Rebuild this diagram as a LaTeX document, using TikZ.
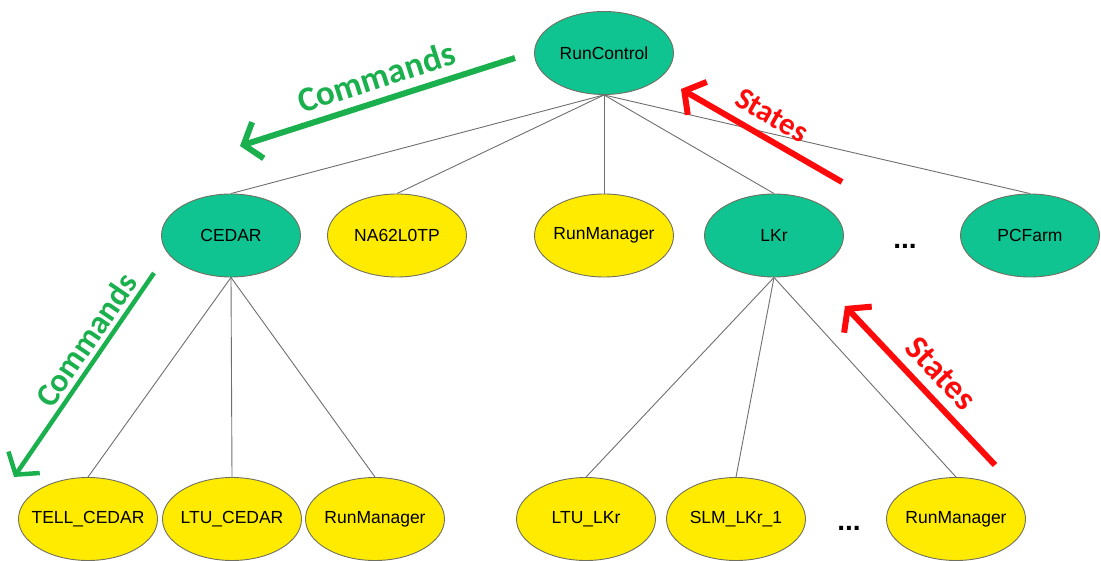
\documentclass[tikz,border=0pt]{standalone}
\usepackage{fontspec}
\setmainfont{Liberation Sans}
\newfontfamily\lblfont{Carlito}
\usetikzlibrary{shapes.geometric,arrows.meta}
\definecolor{nodegreen}{HTML}{10C491}
\definecolor{nodeyellow}{HTML}{FFEB00}
\definecolor{arrgreen}{HTML}{1BB04E}
\definecolor{arrred}{HTML}{FF0A0A}
\definecolor{edgegray}{HTML}{6E6E6E}
\definecolor{bordergray}{HTML}{707060}
\newcommand\zw[1]{\makebox[0pt]{#1}}
\tikzset{
  base/.style={ellipse, draw=bordergray, line width=0.9pt, inner sep=0pt,
    minimum width=139pt, minimum height=83pt,
    font=\fontsize{17.5}{19}\selectfont},
  gnode/.style={base, fill=nodegreen},
  ynode/.style={base, fill=nodeyellow},
  edge/.style={draw=edgegray, line width=0.9pt},
  bigarrow/.style={line width=6pt, -{Straight Barb[length=15pt,width=38pt]}},
  lbl/.style={font=\lblfont\bfseries\fontsize{#1}{#1}\selectfont, inner sep=0pt},
  dots/.style={font=\bfseries\fontsize{28}{28}\selectfont, inner sep=0pt}
}
\begin{document}
\begin{tikzpicture}[x=1pt,y=-1pt]
\useasboundingbox (0,0) rectangle (1101,561);
% nodes
\node[gnode] (rc) at (604,53) {\zw{RunControl}};
\node[gnode] (cedar) at (231,235.5) {\zw{CEDAR}};
\node[ynode] (na62) at (397,235.5) {\zw{NA62L0TP}};
\node[ynode] (rm1) at (604,235.5) {\zw{RunManager}};
\node[gnode] (lkr) at (774,235.5) {\zw{LKr}};
\node[dots] (dots1) at (905,246) {...};
\node[gnode] (pcf) at (1030,235.5) {\zw{PCFarm}};
\node[ynode] (tell) at (88,519) {\zw{TELL\_CEDAR}};
\node[ynode] (ltuc) at (232,519) {\zw{LTU\_CEDAR}};
\node[ynode] (rm2) at (375,519) {\zw{RunManager}};
\node[ynode] (ltul) at (586,519) {\zw{LTU\_LKr}};
\node[ynode] (slm) at (736,519) {\zw{SLM\_LKr\_1}};
\node[dots] (dots2) at (849,528) {...};
\node[ynode] (rm3) at (956,519) {\zw{RunManager}};
% edges
\foreach \c in {cedar,na62,rm1,lkr,pcf} \draw[edge] (rc.south) -- (\c.north);
\foreach \c in {tell,ltuc,rm2} \draw[edge] (cedar.south) -- (\c.north);
\foreach \c in {ltul,slm,rm3} \draw[edge] (lkr.south) -- (\c.north);
% flow arrows
\coordinate (c1s) at (515,58);  \coordinate (c1e) at (240,146);
\coordinate (c2s) at (154,273); \coordinate (c2e) at (14,477);
\coordinate (s1s) at (842,182); \coordinate (s1e) at (681,89);
\coordinate (s2s) at (995,465); \coordinate (s2e) at (845,306);
\draw[bigarrow, draw=arrgreen] (c1s) -- (c1e);
\draw[bigarrow, draw=arrgreen, line width=4.5pt] (c2s) -- (c2e);
\draw[bigarrow, draw=arrred] (s1s) -- (s1e);
\draw[bigarrow, draw=arrred] (s2s) -- (s2e);
\node[lbl=35, text=arrgreen, rotate=17.8] (cmd1) at (376,77) {Commands};
\node[lbl=33, text=arrgreen, rotate=55.7] (cmd2) at (86,340) {Commands};
\node[lbl=31, text=arrred, rotate=-30] (st1) at (772,115) {States};
\node[lbl=34, text=arrred, rotate=-46.6] (st2) at (941,373) {States};
\end{tikzpicture}
\end{document}
